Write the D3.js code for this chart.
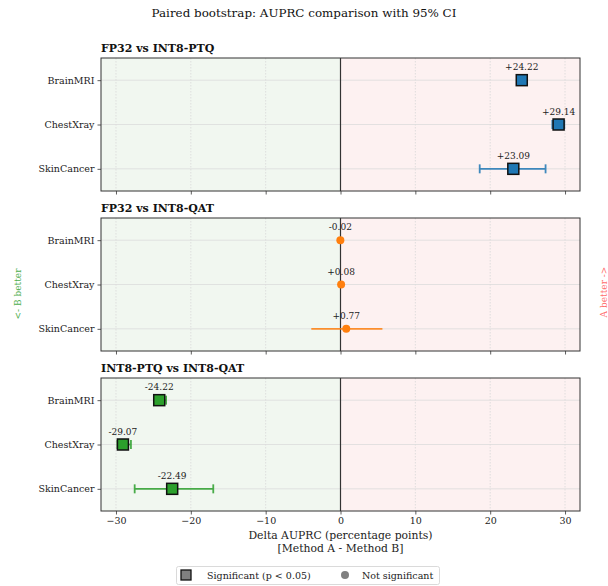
<!DOCTYPE html>
<html><head><meta charset="utf-8">
<script src="https://cdn.jsdelivr.net/npm/d3@7"></script>
<style>body{margin:0;background:#fff}svg{display:block}text{font-family:"DejaVu Serif",serif}</style>
</head><body><div id="c"></div>
<script>
const categories = ["BrainMRI","ChestXray","SkinCancer"];
const comparisons = ["FP32 vs INT8-PTQ","FP32 vs INT8-QAT","INT8-PTQ vs INT8-QAT"];
const colors = ["#1f77b4","#ff7f0e","#2ca02c"];
const deltaPTQ = [24.22, 29.14, 23.09];
const ciLowPTQ = [23.6, 28.3, 18.6];
const ciHighPTQ = [24.8, 29.9, 27.4];
const sigPTQ = [true, true, true];
const deltaQAT = [-0.02, 0.08, 0.77];
const ciLowQAT = [-0.3, -0.2, -3.9];
const ciHighQAT = [0.3, 0.3, 5.6];
const sigQAT = [false, false, false];
const deltaPQ = [-24.22, -29.07, -22.49];
const ciLowPQ = [-24.9, -29.8, -27.5];
const ciHighPQ = [-23.3, -28.0, -17.0];
const sigPQ = [true, true, true];
const xTicks = [-30,-20,-10,0,10,20,30];
const xDomain = [-32, 32];

const panels = [
  {title: comparisons[0], delta: deltaPTQ, lo: ciLowPTQ, hi: ciHighPTQ, sig: sigPTQ, color: colors[0]},
  {title: comparisons[1], delta: deltaQAT, lo: ciLowQAT, hi: ciHighQAT, sig: sigQAT, color: colors[1]},
  {title: comparisons[2], delta: deltaPQ, lo: ciLowPQ, hi: ciHighPQ, sig: sigPQ, color: colors[2]}
];

const W = 608, H = 586;
const svg = d3.select("#c").append("svg").attr("width", W).attr("height", H);
const left = 101, right = 580, ph = 133;
const tops = [58, 218, 378];
const x = d3.scaleLinear().domain(xDomain).range([left, right]);
const fmt = v => (v >= 0 ? "+" : "") + v.toFixed(2);

svg.append("text").attr("x", W/2).attr("y", 17).attr("text-anchor","middle")
  .attr("font-size", 11.9).attr("fill","#111").text("Paired bootstrap: AUPRC comparison with 95% CI");

panels.forEach((p, i) => {
  const top = tops[i];
  const y = d3.scaleLinear().domain([-0.5, 2.5]).range([top, top + ph]);
  const g = svg.append("g");
  g.append("rect").attr("x", x(xDomain[0])).attr("y", top).attr("width", x(0)-x(xDomain[0])).attr("height", ph).attr("fill","#f1f7f0");
  g.append("rect").attr("x", x(0)).attr("y", top).attr("width", x(xDomain[1])-x(0)).attr("height", ph).attr("fill","#fdf1f1");
  g.selectAll(".vg").data(xTicks).join("line")
    .attr("x1", d=>x(d)).attr("x2", d=>x(d)).attr("y1", top).attr("y2", top+ph)
    .attr("stroke","#d8d8d8").attr("stroke-width",0.8).attr("stroke-dasharray","1.5,1.5");
  g.selectAll(".hg").data(categories).join("line")
    .attr("x1", left).attr("x2", right).attr("y1", (d,j)=>y(j)).attr("y2", (d,j)=>y(j))
    .attr("stroke","#dcdcdc").attr("stroke-width",0.8);
  g.append("line").attr("x1", x(0)).attr("x2", x(0)).attr("y1", top).attr("y2", top+ph)
    .attr("stroke","#333").attr("stroke-width",1.2);
  const xa = d3.axisBottom(x).tickValues(xTicks).tickSize(3.5).tickPadding(3)
    .tickFormat(i === 2 ? (d => d < 0 ? "\u2212" + Math.abs(d) : d) : () => "");
  const xg = g.append("g").attr("transform", `translate(0,${top+ph})`).call(xa);
  const ya = d3.axisLeft(y).tickValues([0,1,2]).tickFormat(j => categories[j]).tickSize(3.5).tickPadding(3);
  const yg = g.append("g").attr("transform", `translate(${left},0)`).call(ya);
  [xg, yg].forEach(a => {
    a.select(".domain").remove();
    a.selectAll("line").attr("stroke","#333").attr("stroke-width",0.8);
    a.selectAll("text").attr("font-family","DejaVu Serif").attr("font-size",9.5).attr("fill","#222");
  });
  g.append("rect").attr("x", left).attr("y", top).attr("width", right-left).attr("height", ph)
    .attr("fill","none").attr("stroke","#333").attr("stroke-width",1);
  svg.append("text").attr("x", left).attr("y", top - 6).attr("font-size", 11).attr("font-weight","bold")
    .attr("fill","#111").text(p.title);
  categories.forEach((c, j) => {
    const cy = y(j);
    const eb = g.append("g").attr("stroke", p.color).attr("stroke-width", 1.8).attr("opacity", 0.85);
    eb.append("line").attr("x1", x(p.lo[j])).attr("x2", x(p.hi[j])).attr("y1", cy).attr("y2", cy);
    if (p.sig[j]) {
      eb.append("line").attr("x1", x(p.lo[j])).attr("x2", x(p.lo[j])).attr("y1", cy-4.5).attr("y2", cy+4.5);
      eb.append("line").attr("x1", x(p.hi[j])).attr("x2", x(p.hi[j])).attr("y1", cy-4.5).attr("y2", cy+4.5);
    }
    if (p.sig[j]) {
      g.append("rect").attr("x", x(p.delta[j]) - 5.5).attr("y", cy - 5.5).attr("width", 11).attr("height", 11)
        .attr("fill", p.color).attr("stroke","#111").attr("stroke-width",1.5);
    } else {
      g.append("circle").attr("cx", x(p.delta[j])).attr("cy", cy).attr("r", 4)
        .attr("fill", p.color);
    }
    g.append("text").attr("x", x(p.delta[j])).attr("y", cy - 10).attr("text-anchor","middle")
      .attr("font-size", 9).attr("fill","#222").text(fmt(p.delta[j]));
  });
});

svg.append("text").attr("x", (left+right)/2).attr("y", 539).attr("text-anchor","middle")
  .attr("font-size", 10.8).attr("fill","#222").text("Delta AUPRC (percentage points)");
svg.append("text").attr("x", (left+right)/2).attr("y", 552).attr("text-anchor","middle")
  .attr("font-size", 10.8).attr("fill","#222").text("[Method A - Method B]");

svg.append("text").attr("transform","translate(21,294) rotate(-90)").attr("text-anchor","middle")
  .attr("font-size", 9).attr("fill","#2ca02c").attr("opacity",0.85).text("<- B better");
svg.append("text").attr("transform","translate(607,292) rotate(-90)").attr("text-anchor","middle")
  .attr("font-size", 9).attr("fill","#ff5555").attr("opacity",0.85).text("A better ->");

const lg = svg.append("g");
lg.append("rect").attr("x", 176.5).attr("y", 566.5).attr("width", 263).attr("height", 18).attr("rx", 2)
  .attr("fill","#fff").attr("stroke","#d0d0d0").attr("stroke-width",0.8);
lg.append("rect").attr("x", 181).attr("y", 570).attr("width", 10).attr("height", 10)
  .attr("fill","#808080").attr("stroke","#111").attr("stroke-width",1.3);
lg.append("text").attr("x", 207).attr("y", 579).attr("font-size", 9.5).attr("fill","#222").text("Significant (p < 0.05)");
lg.append("circle").attr("cx", 345).attr("cy", 575).attr("r", 4).attr("fill","#808080");
lg.append("text").attr("x", 362).attr("y", 579).attr("font-size", 9.5).attr("fill","#222").text("Not significant");
</script></body></html>
